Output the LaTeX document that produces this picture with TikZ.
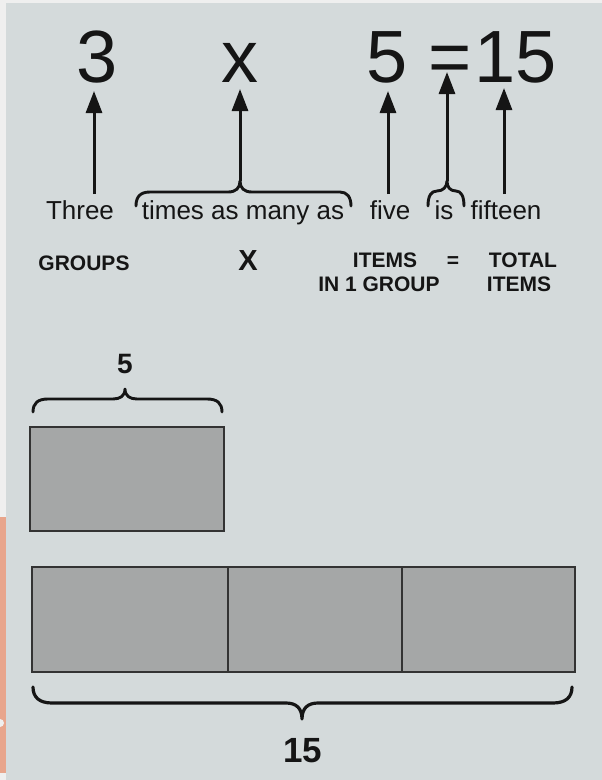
\documentclass[tikz,border=0pt]{standalone}
\usepackage{fontspec}
\setmainfont{Liberation Sans}
\usetikzlibrary{arrows.meta}
\definecolor{paper}{HTML}{D4DADB}
\definecolor{edgegrey}{HTML}{EFEFEF}
\definecolor{tabc}{HTML}{E8A58C}
\definecolor{inkc}{HTML}{151515}
\definecolor{barfill}{HTML}{A5A7A7}
\definecolor{barline}{HTML}{333333}
\begin{document}
\begin{tikzpicture}[x=1pt,y=-1pt,
  ink/.style={text=inkc, inner sep=0pt, anchor=base},
  big/.style={ink, font=\fontsize{74}{74}\selectfont},
  word/.style={ink, font=\fontsize{26}{26}\selectfont},
  capl/.style={ink, font=\bfseries\fontsize{21}{21}\selectfont},
  arr/.style={draw=inkc, line width=3pt, -{Triangle[length=22pt,width=16pt]}},
  brc/.style={draw=inkc, line width=2.9pt, line cap=round, line join=round},
  bar/.style={fill=barfill, draw=barline, line width=1.4pt}]
% background and photo edges
\fill[paper] (0,0) rectangle (602,780);
\useasboundingbox (0,0) rectangle (602,780);
\fill[edgegrey] (0,0) rectangle (6,780);
\fill[edgegrey] (0,0) rectangle (602,3);
\fill[tabc] (0,517) rectangle (6,773);
\fill[edgegrey] (0,723) circle (4);
% equation
\node[big] (n3) at (97,82) {3};
\node[big] (nx) at (240,82) {x};
\node[big] (n5) at (387,82) {5};
\node[big] (neq) at (450,82) {=};
\node[big] (n15) at (516,82) {15};
% words
\node[word] (wthree) at (80,219) {Three};
\node[word] (wtimes) at (243,219) {times as many as};
\node[word] (wfive) at (390,219) {five};
\node[word] (wis) at (444,219) {is};
\node[word] (wfifteen) at (506,219) {fifteen};
% arrow ends
\coordinate (t3) at (94,194);   \coordinate (h3) at (94,91);
\coordinate (tx) at (240,181);  \coordinate (hx) at (240,89);
\coordinate (t5) at (388,194);  \coordinate (h5) at (388,91);
\coordinate (teq) at (447,181); \coordinate (heq) at (447,72);
\coordinate (t15) at (504,194); \coordinate (h15) at (504,88);
\draw[arr] (t3) -- (h3);
\draw[arr] (tx) -- (hx);
\draw[arr] (t5) -- (h5);
\draw[arr] (teq) -- (heq);
\draw[arr] (t15) -- (h15);
% braces over words
\draw[brc] (136,206) .. controls (136,197) and (140,192) .. (150,192) -- (228,192)
  .. controls (236,192) and (240,188) .. (tx)
  .. controls (240,188) and (244,192) .. (252,192) -- (340,192)
  .. controls (347,192) and (351,197) .. (351,206);
\draw[brc] (428,206) .. controls (428,196) and (431,191) .. (437,191)
  .. controls (443,191) and (447,187) .. (teq)
  .. controls (447,187) and (450,191) .. (456,191)
  .. controls (461,191) and (464,196) .. (464,206);
% labels
\node[capl] (lgroups) at (84,270) {GROUPS};
\node[ink, font=\bfseries\fontsize{29}{29}\selectfont] (lx) at (248,270) {X};
\node[capl] (litems) at (385,267) {ITEMS};
\node[capl] (leq) at (453,267) {=};
\node[capl] (ltotal) at (523,267) {TOTAL};
\node[capl] (lin) at (379,291) {IN 1 GROUP};
\node[capl] (litems2) at (519,291) {ITEMS};
% one group
\node[ink, font=\bfseries\fontsize{28}{28}\selectfont] (five) at (125,373) {5};
\coordinate (tipfive) at (125,389);
\draw[brc] (33,412) .. controls (33,403) and (38,399) .. (48,399) -- (113,399)
  .. controls (120,399) and (125,396) .. (tipfive)
  .. controls (125,396) and (130,399) .. (137,399) -- (207,399)
  .. controls (217,399) and (222,403) .. (222,412);
\draw[bar] (30,427) rectangle (224,531);
% three groups
\draw[bar] (32,567) rectangle (575,672);
\draw[barline, line width=1.4pt] (228,567) -- (228,672);
\draw[barline, line width=1.4pt] (402,567) -- (402,672);
\coordinate (tipbig) at (302,719);
\draw[brc, line width=3.2pt] (33,687) .. controls (33,697) and (39,703) .. (52,703) -- (286,703)
  .. controls (296,703) and (302,708) .. (tipbig)
  .. controls (302,708) and (308,703) .. (318,703) -- (553,703)
  .. controls (566,703) and (572,697) .. (572,687);
\node[ink, font=\bfseries\fontsize{35}{35}\selectfont] (fifteen) at (303,762) {15};
\end{tikzpicture}
\end{document}
